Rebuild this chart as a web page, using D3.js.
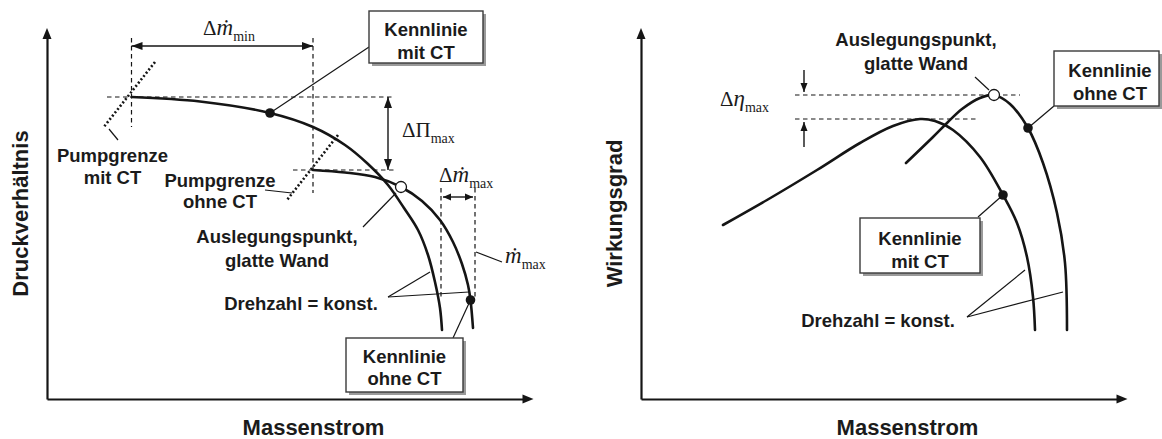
<!DOCTYPE html>
<html>
<head>
<meta charset="utf-8">
<script src="https://cdn.jsdelivr.net/npm/d3@7"></script>
<style>
  body { margin: 0; background: #fff; }
  svg { display: block; }
  .lbl { font-family: "Liberation Sans", Arial, sans-serif; font-weight: bold; font-size: 18.5px; fill: #1b1b1b; }
  .axlbl { font-family: "Liberation Sans", Arial, sans-serif; font-weight: bold; font-size: 22px; fill: #1b1b1b; }
  .sym { font-family: "Liberation Serif", "Times New Roman", serif; font-size: 21px; fill: #1b1b1b; }
</style>
</head>
<body>
<svg id="chart" width="1162" height="439"></svg>
<script>
// Compressor map, schematic: pressure ratio (left) and efficiency (right)
// over mass flow, with and without casing treatment (CT).
// All values are in schematic units (0..100) on both axes.

const axisExtentX = 97.3;
const axisExtentY = 74.2;

// Druckverhältnis – speed line with casing treatment  [massflow, pressure ratio]
const druckMitCT = [
  [16.9, 60.4], [30.6, 59.5], [44.6, 57.2], [53.2, 54.4], [59.6, 50.8],
  [64.2, 47.0], [68.2, 42.8], [71.4, 38.2], [74.2, 33.8], [76.2, 28.8],
  [77.6, 23.4], [78.6, 18.2], [79.0, 13.8]
];
// Druckverhältnis – speed line without casing treatment
const druckOhneCT = [
  [53.2, 45.8], [59.6, 45.3], [65.6, 44.4], [70.8, 42.4], [75.0, 39.6],
  [78.6, 35.8], [81.2, 31.4], [83.0, 27.0], [84.2, 22.8], [84.7, 19.8],
  [85.2, 14.2]
];
// Wirkungsgrad – with casing treatment  [massflow, efficiency]
const etaMitCT = [
  [16.4, 34.8], [25.2, 39.8], [35.2, 45.8], [43.8, 51.2], [50.4, 54.6],
  [55.8, 56.0], [58.8, 55.6], [62.4, 53.8], [67.8, 48.4], [72.4, 40.8],
  [75.2, 35.2], [77.2, 28.4], [78.4, 20.4], [78.8, 13.8]
];
// Wirkungsgrad – without casing treatment
const etaOhneCT = [
  [53.0, 47.2], [58.4, 52.4], [61.2, 55.2], [64.2, 58.0], [67.8, 60.2],
  [70.6, 60.8], [73.8, 59.0], [77.4, 54.2], [80.4, 47.2], [83.2, 37.2],
  [84.8, 27.2], [85.2, 13.8]
];

// Marked operating points
const druckPunkteMitCT = [[44.6, 57.2]];
const druckPunkteOhneCT = [[84.7, 19.8]];
const druckAuslegung = [[70.8, 42.4]];
const etaPunkteMitCT = [[72.4, 40.8]];
const etaPunkteOhneCT = [[77.4, 54.2]];
const etaAuslegung = [[70.6, 60.8]];

// Characteristic levels
const surgeMitCT = [16.9, 60.4];      // Pumpgrenze mit CT
const surgeOhneCT = [53.2, 45.8];     // Pumpgrenze ohne CT
const chokeMitCT = 78.8;              // max. Massenstrom mit CT
const chokeOhneCT = 85.6;             // max. Massenstrom ohne CT
const etaMaxOhneCT = 60.8;            // Wirkungsgradmaximum glatte Wand
const etaMaxMitCT = 56.0;             // Wirkungsgradmaximum mit CT

// Text
const xTitle = "Massenstrom";
const yTitleLeft = "Druckverhältnis";
const yTitleRight = "Wirkungsgrad";

// ---------------------------------------------------------------------
const svg = d3.select("#chart");
const x = d3.scaleLinear().domain([0, 100]).range([0, 500]);
const y = d3.scaleLinear().domain([0, 100]).range([399, -101]);
const ink = "#151515";

const line = d3.line().x(d => x(d[0])).y(d => y(d[1])).curve(d3.curveCatmullRom.alpha(0.5));

function arrowHead(g, x1, y1, x2, y2, len, half) {
  const a = Math.atan2(y2 - y1, x2 - x1);
  const bx = x2 - len * Math.cos(a), by = y2 - len * Math.sin(a);
  const nx = -Math.sin(a) * half, ny = Math.cos(a) * half;
  g.append("path")
    .attr("d", `M${x2},${y2}L${bx + nx},${by + ny}L${bx - nx},${by - ny}Z`)
    .attr("fill", ink);
}

function seg(g, p, q, opts = {}) {
  return g.append("line")
    .attr("x1", x(p[0])).attr("y1", y(p[1]))
    .attr("x2", x(q[0])).attr("y2", y(q[1]))
    .attr("stroke", opts.color || ink)
    .attr("stroke-width", opts.width || 1.2)
    .attr("stroke-dasharray", opts.dash || null)
    .attr("stroke-linecap", opts.cap || "butt");
}

function dimArrow(g, p, q, both, len, half) {
  const x1 = x(p[0]), y1 = y(p[1]), x2 = x(q[0]), y2 = y(q[1]);
  g.append("line").attr("x1", x1).attr("y1", y1).attr("x2", x2).attr("y2", y2)
    .attr("stroke", ink).attr("stroke-width", 1.4);
  arrowHead(g, x1, y1, x2, y2, len, half);
  if (both) arrowHead(g, x2, y2, x1, y1, len, half);
}

function textLines(g, lines, cx, baselines, cls = "lbl") {
  lines.forEach((t, i) => {
    g.append("text").attr("class", cls)
      .attr("x", x(cx)).attr("y", y(baselines[i]))
      .attr("text-anchor", "middle").text(t);
  });
}

function box(g, x0, x1, yTop, yBot, lines, cx, baselines) {
  const px = x(x0), py = y(yTop), w = x(x1) - x(x0), h = y(yBot) - y(yTop);
  g.append("rect").attr("x", px + 3).attr("y", py + 3).attr("width", w).attr("height", h)
    .attr("fill", "#9a9a9a");
  g.append("rect").attr("x", px).attr("y", py).attr("width", w).attr("height", h)
    .attr("fill", "#fff").attr("stroke", "#3a3a3a").attr("stroke-width", 1.4);
  textLines(g, lines, cx, baselines);
}

// math-style label: parts = [[text, italic, sub]]
function mathLabel(g, px, py, parts) {
  const t = g.append("text").attr("class", "sym").attr("x", x(px)).attr("y", y(py));
  let shift = 0;
  parts.forEach(([s, it, sub]) => {
    const ts = t.append("tspan").text(s);
    if (it) ts.attr("font-style", "italic").attr("font-size", "23px");
    if (sub && shift === 0) { ts.attr("dy", 6).attr("font-size", "14px"); shift = 6; }
  });
}

function axes(g) {
  const xa = d3.scaleLinear().domain([0, axisExtentX]).range([x(0), x(axisExtentX) - 6]);
  const ya = d3.scaleLinear().domain([0, axisExtentY]).range([y(0), y(axisExtentY) + 6]);
  g.append("g").attr("transform", `translate(0,${y(0)})`)
    .call(d3.axisBottom(xa).tickValues([]).tickSizeOuter(0))
    .call(s => s.select(".domain").attr("stroke", ink).attr("stroke-width", 2.2));
  g.append("g").attr("transform", `translate(${x(0)},0)`)
    .call(d3.axisLeft(ya).tickValues([]).tickSizeOuter(0))
    .call(s => s.select(".domain").attr("stroke", ink).attr("stroke-width", 2.2));
  arrowHead(g, x(0), y(0), x(axisExtentX), y(0), 11, 4.5);
  arrowHead(g, x(0), y(0), x(0), y(axisExtentY), 11, 4.5);
}

function axisTitles(g, yTitle) {
  g.append("text").attr("class", "axlbl").attr("x", x(53.3)).attr("y", y(-7.2))
    .attr("text-anchor", "middle").text(xTitle);
  g.append("text").attr("class", "axlbl")
    .attr("transform", `translate(${x(-3.8)},${y(37.1)}) rotate(-90)`)
    .attr("text-anchor", "middle").text(yTitle);
}

function curve(g, data) {
  g.append("path").attr("d", line(data)).attr("fill", "none")
    .attr("stroke", ink).attr("stroke-width", 2.6).attr("stroke-linecap", "round");
}

function dots(g, data, open) {
  g.selectAll(null).data(data).enter().append("circle")
    .attr("cx", d => x(d[0])).attr("cy", d => y(d[1]))
    .attr("r", open ? 5.5 : 4.8)
    .attr("fill", open ? "#fff" : ink)
    .attr("stroke", ink).attr("stroke-width", open ? 1.3 : 0);
}

const dash = "4.5,3.5";

// ----------------------------- left panel ----------------------------
const L = svg.append("g").attr("transform", "translate(47,0)");

// reference lines
seg(L, [surgeMitCT[0], 72.2], [surgeMitCT[0], 54.4], { dash });
seg(L, [surgeOhneCT[0], 72.2], [surgeOhneCT[0], 41.2], { dash });
seg(L, [12.0, surgeMitCT[1]], [69.6, surgeMitCT[1]], { dash });
seg(L, [49.2, surgeOhneCT[1]], [69.6, surgeOhneCT[1]], { dash });
seg(L, [chokeMitCT, 42.2], [chokeMitCT, 19.8], { dash });
seg(L, [chokeOhneCT, 42.2], [chokeOhneCT, 19.8], { dash });

// surge limit markers (dotted)
seg(L, [21.6, 67.4], [11.2, 54.2], { dash: "2,2.2", width: 2.6 });
seg(L, [58.2, 52.8], [48.0, 39.8], { dash: "2,2.2", width: 2.6 });

// speed lines
curve(L, druckMitCT);
curve(L, druckOhneCT);

// leaders
seg(L, [12.4, 54.0], [14.2, 51.8]);
seg(L, [43.6, 41.8], [49.0, 41.2]);
seg(L, [64.4, 70.4], druckPunkteMitCT[0]);
seg(L, [63.2, 34.4], [69.8, 41.2]);
seg(L, [68.2, 20.4], [76.6, 25.4]);
seg(L, [68.2, 20.4], [84.4, 21.4]);
seg(L, [81.2, 12.2], druckPunkteOhneCT[0]);
seg(L, [85.8, 29.4], [91.0, 27.4]);

dots(L, druckPunkteMitCT, false);
dots(L, druckPunkteOhneCT, false);
dots(L, druckAuslegung, true);

// dimension arrows
dimArrow(L, [surgeMitCT[0], 70.6], [surgeOhneCT[0], 70.6], true, 11, 4);
dimArrow(L, [68.2, surgeMitCT[1]], [68.2, surgeOhneCT[1]], true, 11, 4);
dimArrow(L, [chokeMitCT + 0.4, 40.4], [chokeOhneCT - 0.4, 40.4], true, 8, 3.5);

mathLabel(L, 31.2, 72.8, [["Δ", false], ["ṁ", true], ["min", false, true]]);
mathLabel(L, 71.0, 52.4, [["ΔΠ", false], ["max", false, true]]);
mathLabel(L, 78.4, 43.4, [["Δ", false], ["ṁ", true], ["max", false, true]]);
mathLabel(L, 91.6, 27.2, [["ṁ", true], ["max", false, true]]);

textLines(L, ["Pumpgrenze", "mit CT"], 13.1, [47.4, 43.0]);
textLines(L, ["Pumpgrenze", "ohne CT"], 34.6, [42.4, 38.2]);
textLines(L, ["Auslegungspunkt,", "glatte Wand"], 46.0, [31.2, 26.4]);
textLines(L, ["Drehzahl = konst."], 50.8, [17.8]);
box(L, 64.4, 87.2, 77.6, 67.2, ["Kennlinie", "mit CT"], 75.8, [72.6, 68.0]);
box(L, 59.8, 83.2, 12.2, 1.4, ["Kennlinie", "ohne CT"], 71.5, [7.2, 2.8]);

axes(L);
axisTitles(L, yTitleLeft);

// ----------------------------- right panel ---------------------------
const R = svg.append("g").attr("transform", "translate(641,0)");

seg(R, [30.8, etaMaxOhneCT], [75.8, etaMaxOhneCT], { dash });
seg(R, [30.8, etaMaxMitCT], [67.4, etaMaxMitCT], { dash });

curve(R, etaMitCT);
curve(R, etaOhneCT);

seg(R, [66.8, 64.4], [69.6, 61.8]);
seg(R, [82.6, 58.6], etaPunkteOhneCT[0]);
seg(R, [67.4, 36.4], etaPunkteMitCT[0]);
seg(R, [65.2, 16.4], [76.8, 25.8]);
seg(R, [65.2, 16.4], [84.4, 21.4]);

dots(R, etaPunkteMitCT, false);
dots(R, etaPunkteOhneCT, false);
dots(R, etaAuslegung, true);

dimArrow(R, [32.6, 65.8], [32.6, etaMaxOhneCT + 0.6], false, 9, 3.5);
dimArrow(R, [32.6, 50.4], [32.6, etaMaxMitCT - 0.6], false, 9, 3.5);
mathLabel(R, 15.8, 58.6, [["Δ", false], ["η", true], ["max", false, true]]);

textLines(R, ["Auslegungspunkt,", "glatte Wand"], 55.0, [70.6, 65.8]);
textLines(R, ["Drehzahl = konst."], 47.4, [14.4]);
box(R, 82.6, 103.6, 69.6, 58.6, ["Kennlinie", "ohne CT"], 93.8, [64.4, 59.8]);
box(R, 43.8, 67.8, 36.2, 25.2, ["Kennlinie", "mit CT"], 55.8, [30.8, 26.2]);

axes(R);
axisTitles(R, yTitleRight);
</script>
</body>
</html>
